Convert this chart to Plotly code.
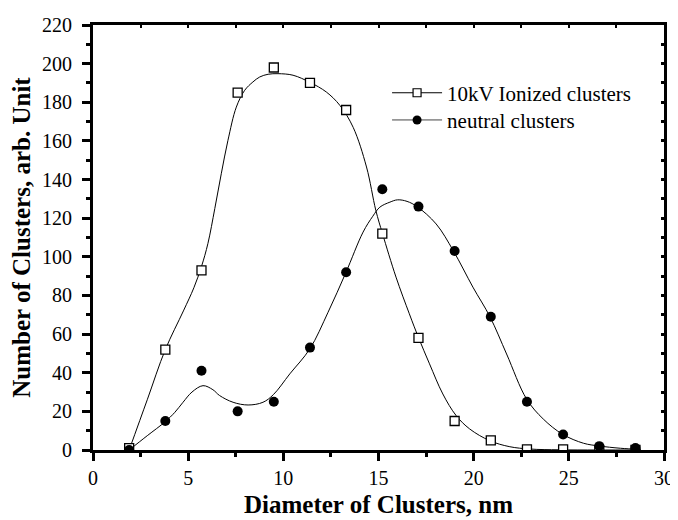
import plotly.graph_objects as go

# ---- data ----
diameter_nm = [1.9, 3.8, 5.7, 7.6, 9.5, 11.4, 13.3, 15.2, 17.1, 19.0, 20.9, 22.8, 24.7, 26.6, 28.5]
ionized_10kv = [1, 52, 93, 185, 198, 190, 176, 112, 58, 15, 5, 0.3, 0.3, 0, 0]
neutral = [0, 15, 41, 20, 25, 53, 92, 135, 126, 103, 69, 25, 8, 2, 1]

# smooth fit curves
ion_fit_x = [1.9, 2.85, 3.8, 4.75, 5.3, 5.7, 6.04, 6.4, 6.74, 7.09, 7.53, 7.97, 8.4, 8.76,
             9.2, 9.72, 10.51, 11.42, 12.26, 12.97, 13.67, 14.37, 14.86, 15.21, 15.92, 16.62,
             17.11, 17.68, 18.38, 19.08, 19.79, 20.85, 21.9, 22.96, 24.5, 26.5, 28.77]
ion_fit_y = [0, 26, 52, 72, 84, 95, 107, 125, 143, 160.3, 177.5, 186.2, 190.5, 193.1,
             194.5, 194.8, 194, 190.2, 185.3, 178.4, 167, 146.5, 124, 112, 89.5, 70.5,
             58, 44.6, 29, 17.8, 10.9, 4.8, 1.7, 0.5, 0.1, 0, 0]
neu_fit_x = [1.9, 2.85, 3.8, 4.3, 4.73, 5.2, 5.78, 6.3, 6.65, 7.36, 8.15, 8.93, 9.48, 10.34,
             11.39, 12.35, 13.28, 14.19, 14.7, 15.07, 15.6, 16.0, 16.5, 17.04, 18.03, 18.94,
             19.96, 20.86, 21.73, 22.78, 23.66, 24.68, 25.77, 26.58, 27.71, 28.77]
neu_fit_y = [0, 7.4, 14.7, 19.5, 24.7, 30, 33.3, 31.2, 28.2, 24.7, 23.3, 24.7, 28.7, 39.4,
             52.3, 71.3, 91.7, 112.8, 121, 125.7, 128.3, 129.5, 128.7, 125.9, 117, 103,
             84.3, 68.9, 49.7, 26.4, 16, 8.1, 3.5, 2.1, 0.9, 0.3]

series_names = ["10kV Ionized clusters", "neutral clusters"]
x_title = "Diameter of Clusters, nm"
y_title = "Number of Clusters, arb. Unit"

FONT = "Liberation Serif"

fig = go.Figure()

fig.add_trace(go.Scatter(x=neu_fit_x, y=neu_fit_y, mode="lines",
                         line=dict(color="black", width=1, shape="spline", smoothing=1.0),
                         showlegend=False, hoverinfo="skip"))
fig.add_trace(go.Scatter(x=ion_fit_x, y=ion_fit_y, mode="lines",
                         line=dict(color="black", width=1, shape="spline", smoothing=1.0),
                         showlegend=False, hoverinfo="skip"))
fig.add_trace(go.Scatter(x=diameter_nm, y=ionized_10kv, mode="markers",
                         marker=dict(symbol="square", size=9, color="white",
                                     line=dict(color="black", width=1.3)),
                         showlegend=False))
fig.add_trace(go.Scatter(x=diameter_nm, y=neutral, mode="markers",
                         marker=dict(symbol="circle", size=10, color="black",
                                     line=dict(color="black", width=0)),
                         showlegend=False))

# legend entries (one legend box each so the spacing can match)
fig.add_trace(go.Scatter(x=[None], y=[None], mode="lines+markers", name=series_names[0],
                         line=dict(color="black", width=1),
                         marker=dict(symbol="square", size=8, color="white",
                                     line=dict(color="black", width=1.2)),
                         legend="legend"))
fig.add_trace(go.Scatter(x=[None], y=[None], mode="lines+markers", name=series_names[1],
                         line=dict(color="#444444", width=1),
                         marker=dict(symbol="circle", size=9, color="black"),
                         legend="legend2"))

# invisible trace to carry the top/right tick axes
fig.add_trace(go.Scatter(x=[None], y=[None], xaxis="x2", yaxis="y2",
                         showlegend=False, hoverinfo="skip"))

leg_common = dict(xanchor="left", yanchor="top", bgcolor="rgba(0,0,0,0)",
                  font=dict(family=FONT, size=21), itemwidth=50, tracegroupgap=0)

fig.update_layout(
    width=678, height=520,
    margin=dict(l=85, r=22, t=17, b=78),
    paper_bgcolor="white", plot_bgcolor="white",
    font=dict(family=FONT, size=20, color="black"),
    legend=dict(x=0.515, y=0.888, **leg_common),
    legend2=dict(x=0.515, y=0.824, **leg_common),
    xaxis=dict(range=[0, 30], tick0=0, dtick=5, ticks="outside", ticklen=8, tickwidth=2.5,
               tickcolor="black", showline=True, linewidth=3, linecolor="black",
               mirror=True, showgrid=False, zeroline=False, automargin=False,
               minor=dict(dtick=2.5, ticks="outside", ticklen=4, tickwidth=2.5, tickcolor="black"),
               tickfont=dict(family=FONT, size=20), ticklabelstandoff=0,
               title=dict(text="<b>" + x_title + "</b>", font=dict(family=FONT, size=25), standoff=8)),
    yaxis=dict(range=[0, 220], tick0=0, dtick=20, ticks="outside", ticklen=8, tickwidth=2.5,
               tickcolor="black", showline=True, linewidth=3, linecolor="black",
               mirror=True, showgrid=False, zeroline=False, automargin=False,
               minor=dict(dtick=10, ticks="outside", ticklen=4, tickwidth=2.5, tickcolor="black"),
               tickfont=dict(family=FONT, size=20), ticklabelstandoff=6,
               title=dict(text="<b>" + y_title + "</b>", font=dict(family=FONT, size=25), standoff=6)),
    xaxis2=dict(overlaying="x", side="top", anchor="y", range=[0, 30], dtick=2.5,
                ticks="inside", ticklen=3, tickwidth=2, tickcolor="black", automargin=False,
                showticklabels=False, showgrid=False, zeroline=False, showline=False),
    yaxis2=dict(overlaying="y", side="right", anchor="x", range=[0, 220], dtick=10,
                ticks="inside", ticklen=3, tickwidth=2.5, tickcolor="black", automargin=False,
                showticklabels=False, showgrid=False, zeroline=False, showline=False),
)

fig.write_html("out.html")
